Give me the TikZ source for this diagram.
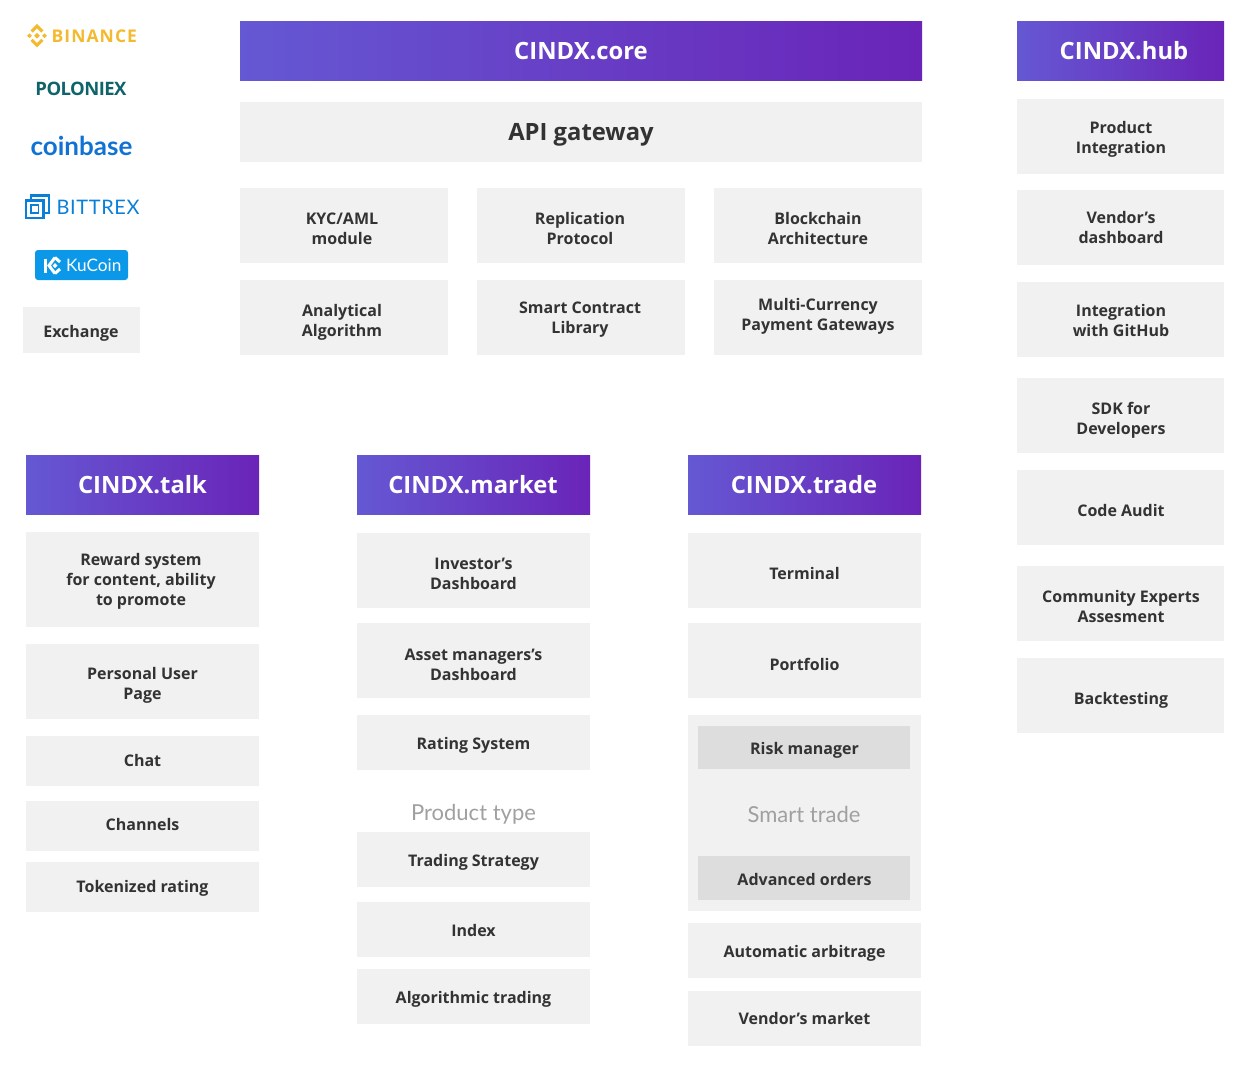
\documentclass[tikz,border=0pt]{standalone}
\usepackage{fontspec}
\setmainfont{Open Sans}
\newfontfamily\lato{Lato}
\usetikzlibrary{calc}
\definecolor{boxgray}{HTML}{F1F1F1}
\definecolor{innergray}{HTML}{DDDDDD}
\definecolor{ink}{HTML}{333333}
\definecolor{gradL}{HTML}{6558D3}
\definecolor{gradR}{HTML}{6A24B8}
\definecolor{softgray}{HTML}{A0A0A0}
\tikzset{
 x=1pt,y=-1pt,
 cellfill/.style={fill=boxgray,draw=none},
 innerfill/.style={fill=innergray,draw=none},
 headfill/.style={draw=none,left color=gradL,right color=gradR},
 celltext/.style={inner sep=0pt,yshift=-0.5pt,align=center,text=ink,font=\fontsize{16}{20}\selectfont\bfseries},
 headtext/.style={inner sep=0pt,text=white,align=center,font=\fontsize{23.8}{30}\selectfont\bfseries},
 apitext/.style={inner sep=0pt,yshift=-3pt,text=ink,align=center,font=\fontsize{23.8}{30}\selectfont\bfseries},
 softtext/.style={inner sep=0pt,text=softgray,font=\lato\fontsize{22}{24}\selectfont},
 logotext/.style={inner sep=0pt},
}
% name, fill style, text style, x1, y1, x2, y2 ; then {text x}{text y}{text}
\newcommand{\bx}[7]{\path[#2] (#4,#5) rectangle (#6,#7);\bxtext{#1}{#3}}
\newcommand{\bxtext}[5]{\node[#2] (#1) at (#3,#4) {#5};}
\begin{document}
\begin{tikzpicture}
\useasboundingbox (0,0) rectangle (1246,1070);
% core
\bx{core}{headfill}{headtext}{240}{21.5}{922}{81}{581}{51}{CINDX.core}
\bx{api}{cellfill}{apitext}{240}{102}{922}{162}{581}{132}{API gateway}
\bx{kyc}{cellfill}{celltext}{240}{188}{448}{263}{342}{228}{KYC/AML\\module}
\bx{repl}{cellfill}{celltext}{477}{188}{685}{263}{580}{228}{Replication\\Protocol}
\bx{block}{cellfill}{celltext}{714}{188}{922}{263}{818}{228}{Blockchain\\Architecture}
\bx{analyt}{cellfill}{celltext}{240}{280}{448}{355}{342}{322}{Analytical\\Algorithm}
\bx{smartc}{cellfill}{celltext}{477}{280}{685}{355}{580}{319}{Smart Contract\\Library}
\bx{multi}{cellfill}{celltext}{714}{280}{922}{355}{818}{316}{Multi-Currency\\Payment Gateways}
% hub
\bx{hub}{headfill}{headtext}{1017}{21.5}{1224}{81}{1124}{51}{CINDX.hub}
\bx{prod}{cellfill}{celltext}{1017}{99}{1224}{174}{1121}{139}{Product\\Integration}
\bx{vendash}{cellfill}{celltext}{1017}{190}{1224}{265}{1121}{227}{Vendor’s\\dashboard}
\bx{github}{cellfill}{celltext}{1017}{282}{1224}{357}{1121}{320}{Integration\\with GitHub}
\bx{sdk}{cellfill}{celltext}{1017}{378}{1224}{453}{1121}{420}{SDK for\\Developers}
\bx{audit}{cellfill}{celltext}{1017}{470}{1224}{545}{1121}{510}{Code Audit}
\bx{comm}{cellfill}{celltext}{1017}{566}{1224}{641}{1121}{606}{Community Experts\\Assesment}
\bx{back}{cellfill}{celltext}{1017}{658}{1224}{733}{1121}{700}{Backtesting}
% talk
\bx{talk}{headfill}{headtext}{26}{455}{259}{514.5}{142.5}{484.5}{CINDX.talk}
\bx{reward}{cellfill}{celltext}{26}{532}{259}{627}{141}{581}{Reward system\\for content, ability\\to promote}
\bx{personal}{cellfill}{celltext}{26}{644}{259}{719}{142.5}{685}{Personal User\\Page}
\bx{chat}{cellfill}{celltext}{26}{736}{259}{786}{142.5}{760}{Chat}
\bx{chan}{cellfill}{celltext}{26}{801}{259}{851}{142.5}{824}{Channels}
\bx{token}{cellfill}{celltext}{26}{862}{259}{912}{142.5}{888}{Tokenized rating}
% market
\bx{market}{headfill}{headtext}{357}{455}{590}{514.5}{473}{484.5}{CINDX.market}
\bx{invest}{cellfill}{celltext}{357}{533}{590}{608}{473.5}{573}{Investor’s\\Dashboard}
\bx{asset}{cellfill}{celltext}{357}{623}{590}{698}{473.5}{664}{Asset managers’s\\Dashboard}
\bx{rating}{cellfill}{celltext}{357}{715}{590}{770}{473.5}{745}{Rating System}
\node[softtext] (ptype) at (473.5,814) {Product type};
\bx{strat}{cellfill}{celltext}{357}{832}{590}{887}{473.5}{862}{Trading Strategy}
\bx{index}{cellfill}{celltext}{357}{902}{590}{957}{473.5}{930}{Index}
\bx{algo}{cellfill}{celltext}{357}{969}{590}{1024}{473.5}{999}{Algorithmic trading}
% trade
\bx{trade}{headfill}{headtext}{688}{455}{921}{514.5}{804}{484.5}{CINDX.trade}
\bx{term}{cellfill}{celltext}{688}{533}{921}{608}{804.5}{573}{Terminal}
\bx{port}{cellfill}{celltext}{688}{623}{921}{698}{804.5}{664}{Portfolio}
\path[cellfill] (688,715) rectangle (921,911);
\bx{risk}{innerfill}{celltext}{698}{726}{910}{769}{804.5}{750}{Risk manager}
\node[softtext] (smartt) at (804,814.5) {Smart trade};
\bx{adv}{innerfill}{celltext}{698}{856}{910}{900}{804.5}{879}{Advanced orders}
\bx{arb}{cellfill}{celltext}{688}{923}{921}{978}{804.5}{953}{Automatic arbitrage}
\bx{vmarket}{cellfill}{celltext}{688}{991}{921}{1046}{804.5}{1018}{Vendor’s market}
% exchange
\bx{exch}{cellfill}{celltext}{23}{307}{140}{353}{81}{333}{Exchange}
% Binance
\definecolor{binance}{HTML}{F3BA2F}
\fill[binance] (37,24) -- (43.5,30.5) -- (41.3,32.7) -- (37,28.4) -- (32.7,32.7) -- (30.5,30.5) -- cycle;
\fill[binance] (37,47.5) -- (43.5,41) -- (41.3,38.8) -- (37,43.1) -- (32.7,38.8) -- (30.5,41) -- cycle;
\fill[binance] (37,33) -- (39.8,35.8) -- (37,38.6) -- (34.2,35.8) -- cycle;
\fill[binance] (29.5,33.5) -- (31.8,35.8) -- (29.5,38.1) -- (27.2,35.8) -- cycle;
\fill[binance] (44.5,33.5) -- (46.8,35.8) -- (44.5,38.1) -- (42.2,35.8) -- cycle;
\node[logotext,anchor=west,text=binance,font=\fontsize{17.5}{20}\selectfont\bfseries\addfontfeature{LetterSpace=6}] (binancet) at (51.5,36) {BINANCE};
% Poloniex
\definecolor{polo}{HTML}{0F6469}
\node[logotext,text=polo,font=\fontsize{18.5}{20}\selectfont\bfseries\addfontfeature{LetterSpace=-3}] (polot) at (81,88.5) {POLONIEX};
% Coinbase
\definecolor{coinb}{HTML}{1172D4}
\node[logotext,text=coinb,font=\lato\fontsize{26}{30}\selectfont\bfseries] (coinbt) at (81.5,146) {coinbase};
% Bittrex
\definecolor{bittrex}{HTML}{0A7FD8}
\draw[bittrex,line width=2.2pt] (31,200) -- (31,195.5) -- (49,195.5) -- (49,213) -- (44,213);
\draw[bittrex,line width=2.2pt] (26,200.5) rectangle (43.5,218);
\draw[bittrex,line width=1.4pt] (31,205) rectangle (38.5,213);
\node[logotext,anchor=west,text=bittrex,font=\lato\fontsize{20}{22}\selectfont\addfontfeature{LetterSpace=3}] (bitt) at (56.5,207) {BITTREX};
% KuCoin
\definecolor{kucoin}{HTML}{0C98E8}
\fill[kucoin,rounded corners=3pt] (35,250) rectangle (128,280);
\draw[white,line width=3pt] (45.5,258.5) -- (45.5,272.5);
\draw[white,line width=3pt] (55,257.5) -- (49,265.5) -- (55,273.5);
\draw[white,line width=3pt] (55,257.5) -- (60,262);
\draw[white,line width=3pt] (55,273.5) -- (60,269);
\fill[white] (55,263) -- (57.5,265.5) -- (55,268) -- (52.5,265.5) -- cycle;
\node[logotext,anchor=west,text=white,font=\lato\fontsize{17.2}{22}\selectfont] (kuc) at (66,265.5) {KuCoin};
\end{tikzpicture}
\end{document}
